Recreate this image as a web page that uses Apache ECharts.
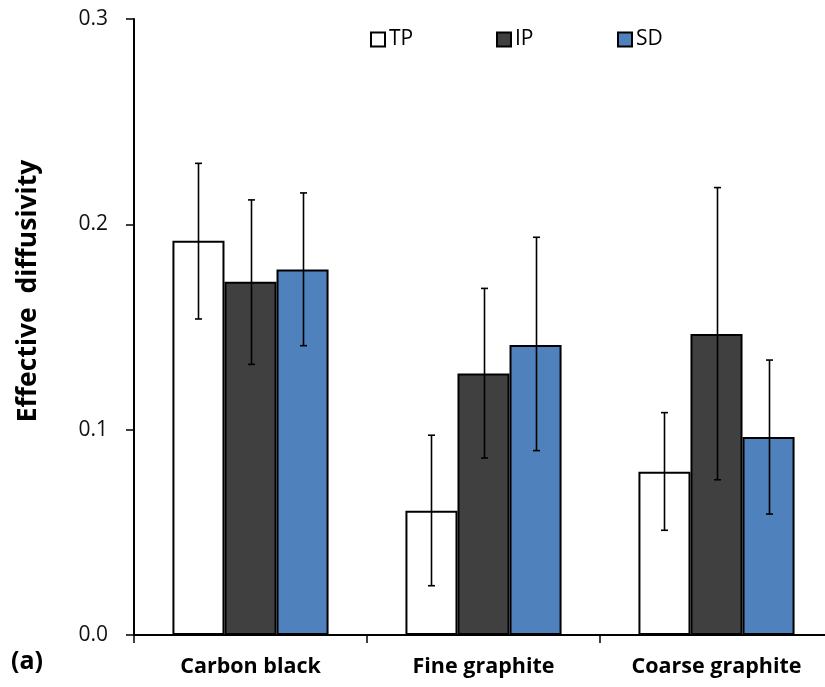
<!DOCTYPE html>
<html>
<head>
<meta charset="utf-8">
<script src="https://cdn.jsdelivr.net/npm/echarts@6/dist/echarts.min.js"></script>
<style>html,body{margin:0;padding:0;background:#fff}#c{width:825px;height:687px}</style>
</head>
<body>
<div id="c"></div>
<script>
var categories = ['Carbon black', 'Fine graphite', 'Coarse graphite'];
var yTicks = [0, 0.1, 0.2, 0.3];
var tp = [0.192, 0.0605, 0.0795];
var ip = [0.172, 0.1274, 0.1466];
var sd = [0.178, 0.1412, 0.0964];
var tpHigh = [0.2297, 0.0973, 0.1083];
var tpLow  = [0.1539, 0.0240, 0.0510];
var ipHigh = [0.2119, 0.1688, 0.2179];
var ipLow  = [0.1318, 0.0862, 0.0756];
var sdHigh = [0.2153, 0.1937, 0.1339];
var sdLow  = [0.1409, 0.0898, 0.0589];

var FONT = 'Open Sans';
var GAP = 0.33;

function errSeries(idx, low, high) {
  return {
    type: 'custom',
    z: 10,
    silent: true,
    data: categories.map(function (c, i) { return [i, low[i], high[i]]; }),
    renderItem: function (params, api) {
      var ci = api.value(0);
      var band = api.size([1, 0])[0];
      var bw = band * (1 - GAP) / 3;
      var off = (idx - 1) * bw;
      var pLo = api.coord([ci, api.value(1)]);
      var pHi = api.coord([ci, api.value(2)]);
      var x = Math.round(pLo[0] + off) + 0.5;
      var cap = 3.5;
      var st = { stroke: '#000', lineWidth: 1.6 };
      return {
        type: 'group',
        children: [
          { type: 'line', shape: { x1: x, y1: pLo[1], x2: x, y2: pHi[1] }, style: st },
          { type: 'line', shape: { x1: x - cap, y1: pHi[1], x2: x + cap, y2: pHi[1] }, style: st },
          { type: 'line', shape: { x1: x - cap, y1: pLo[1], x2: x + cap, y2: pLo[1] }, style: st }
        ]
      };
    },
    encode: { x: 0, y: [1, 2] }
  };
}

function legendAt(name, left) {
  return {
    data: [name], left: left, top: 29, itemWidth: 14, itemHeight: 14, itemGap: 0,
    icon: 'rect', selectedMode: false, padding: 0,
    textStyle: { fontFamily: FONT, fontSize: 21, color: '#000', padding: [0, 0, 0, -1] }
  };
}

var chart = echarts.init(document.getElementById('c'), null, { renderer: 'canvas' });
chart.setOption({
  animation: false,
  backgroundColor: '#fff',
  legend: [legendAt('TP', 370), legendAt('IP', 496), legendAt('SD', 617)],
  grid: { left: 134, width: 699, top: 19, bottom: 52, containLabel: false, outerBoundsMode: 'none' },
  xAxis: {
    type: 'category', data: categories,
    axisLine: { lineStyle: { color: '#000', width: 2 } },
    axisTick: { show: true, length: 8, lineStyle: { color: '#000', width: 1.5 } },
    axisLabel: { fontFamily: FONT, fontWeight: 'bold', fontSize: 21.5, color: '#000', margin: 21 }
  },
  yAxis: {
    type: 'value', min: 0, max: 0.3, interval: 0.1,
    splitLine: { show: false },
    axisLine: { show: true, lineStyle: { color: '#000', width: 2 } },
    axisTick: { show: true, length: 8, lineStyle: { color: '#000', width: 1.5 } },
    axisLabel: { fontFamily: FONT, fontSize: 21, color: '#111', margin: 26,
      formatter: function (v) { return v.toFixed(1); } }
  },
  graphic: [
    { type: 'text', left: 11, top: 649, style: { text: '(a)', fontFamily: FONT, fontWeight: 'bold', fontSize: 25, fill: '#000' } },
    { type: 'text', x: 28, y: 291, rotation: Math.PI / 2, style: { text: 'Effective  diffusivity', fontFamily: FONT, fontWeight: 'bold', fontSize: 26.5, fill: '#000', align: 'center', verticalAlign: 'middle' } }
  ],
  series: [
    { name: 'TP', type: 'bar', data: tp, barGap: 0, barCategoryGap: '33%',
      itemStyle: { color: '#fff', borderColor: '#000', borderWidth: 2 } },
    { name: 'IP', type: 'bar', data: ip,
      itemStyle: { color: '#404040', borderColor: '#000', borderWidth: 2 } },
    { name: 'SD', type: 'bar', data: sd,
      itemStyle: { color: '#4F81BD', borderColor: '#000', borderWidth: 2 } },
    errSeries(0, tpLow, tpHigh),
    errSeries(1, ipLow, ipHigh),
    errSeries(2, sdLow, sdHigh)
  ]
});
</script>
</body>
</html>
